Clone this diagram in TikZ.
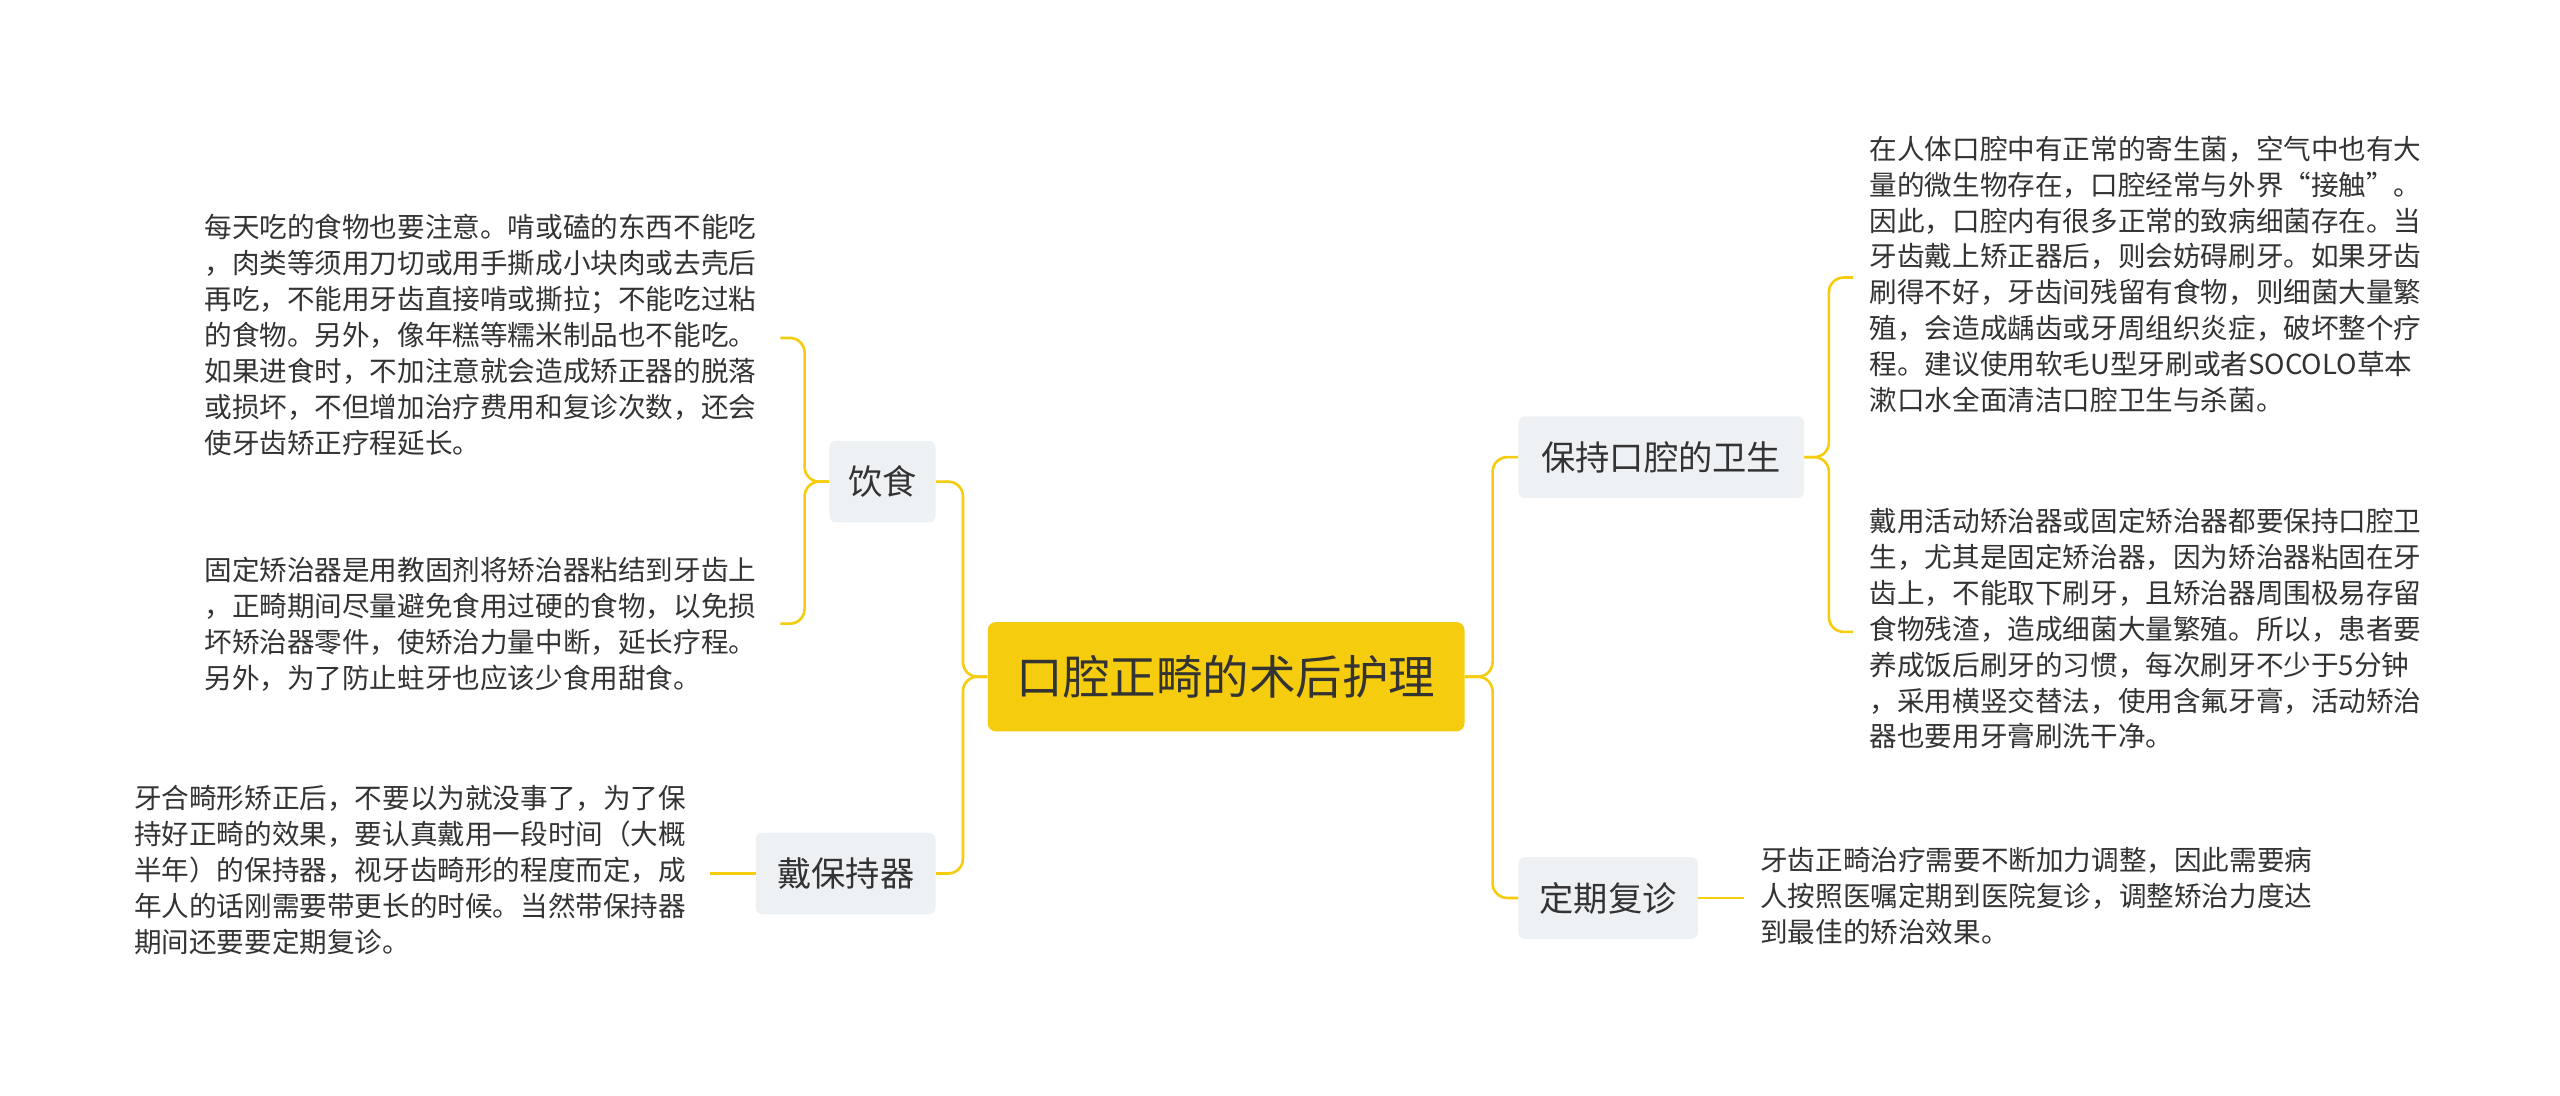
\documentclass[tikz,border=0pt]{standalone}
\usepackage{fontspec}
\setmainfont{Noto Sans CJK SC}
\begin{document}
\begin{tikzpicture}[x=1pt,y=-1pt,
  conn/.style={draw=cyel,line width=1.6pt,rounded corners=9pt},
  sub/.style={fill=cgray,rounded corners=4pt,inner sep=0pt,font=\fontsize{21}{24}\selectfont,text=ctxt},
  body/.style={anchor=north west,inner sep=0pt,align=left,font=\fontsize{16.9}{22}\selectfont,text=ctxt}]
\definecolor{cyel}{HTML}{F5CC0E}
\definecolor{cgray}{HTML}{EEF1F4}
\definecolor{ctxt}{HTML}{333333}
\useasboundingbox[fill=white] (0,0) rectangle (1568,671);
\node[fill=cyel,rounded corners=5pt,minimum width=292pt,minimum height=67pt,inner sep=0pt,font=\fontsize{28.5}{30}\selectfont,text=ctxt] (c) at (751,414.5) {口腔正畸的术后护理};
\node[sub,minimum width=65pt,minimum height=50pt] (yin) at (540.5,295) {饮食};
\node[sub,minimum width=110pt,minimum height=50pt] (dai) at (518,535) {戴保持器};
\node[sub,minimum width=175pt,minimum height=50pt] (bao) at (1017.5,280) {保持口腔的卫生};
\node[sub,minimum width=110pt,minimum height=50pt] (ding) at (985,550) {定期复诊};
\node[body] (t1) at (125,131) {每天吃的食物也要注意。啃或磕的东西不能吃\\，肉类等须用刀切或用手撕成小块肉或去壳后\\再吃，不能用牙齿直接啃或撕拉；不能吃过粘\\的食物。另外，像年糕等糯米制品也不能吃。\\如果进食时，不加注意就会造成矫正器的脱落\\或损坏，不但增加治疗费用和复诊次数，还会\\使牙齿矫正疗程延长。};
\node[body] (t2) at (125,341) {固定矫治器是用教固剂将矫治器粘结到牙齿上\\，正畸期间尽量避免食用过硬的食物，以免损\\坏矫治器零件，使矫治力量中断，延长疗程。\\另外，为了防止蛀牙也应该少食用甜食。};
\node[body] (t3) at (82,481) {牙合畸形矫正后，不要以为就没事了，为了保\\持好正畸的效果，要认真戴用一段时间（大概\\半年）的保持器，视牙齿畸形的程度而定，成\\年人的话刚需要带更长的时候。当然带保持器\\期间还要要定期复诊。};
\node[body] (t4) at (1145,83) {在人体口腔中有正常的寄生菌，空气中也有大\\量的微生物存在，口腔经常与外界“接触”。\\因此，口腔内有很多正常的致病细菌存在。当\\牙齿戴上矫正器后，则会妨碍刷牙。如果牙齿\\刷得不好，牙齿间残留有食物，则细菌大量繁\\殖，会造成龋齿或牙周组织炎症，破坏整个疗\\程。建议使用软毛U型牙刷或者SOCOLO草本\\漱口水全面清洁口腔卫生与杀菌。};
\node[body] (t5) at (1145,311) {戴用活动矫治器或固定矫治器都要保持口腔卫\\生，尤其是固定矫治器，因为矫治器粘固在牙\\齿上，不能取下刷牙，且矫治器周围极易存留\\食物残渣，造成细菌大量繁殖。所以，患者要\\养成饭后刷牙的习惯，每次刷牙不少于5分钟\\，采用横竖交替法，使用含氟牙膏，活动矫治\\器也要用牙膏刷洗干净。};
\node[body] (t6) at (1078,519) {牙齿正畸治疗需要不断加力调整，因此需要病\\人按照医嘱定期到医院复诊，调整矫治力度达\\到最佳的矫治效果。};
\coordinate (a1) at (478,207);
\coordinate (a2) at (478,382);
\coordinate (a3) at (435,535);
\coordinate (b1) at (1135,170);
\coordinate (b2) at (1135,387);
\coordinate (b3) at (1068,550);
\draw[conn] (c.west) -- ++(-15,0) |- (yin.east);
\draw[conn] (c.west) -- ++(-15,0) |- (dai.east);
\draw[conn] (c.east) -- ++(17,0) |- (bao.west);
\draw[conn] (c.east) -- ++(17,0) |- (ding.west);
\draw[conn] (yin.west) -- ++(-15,0) |- (a1);
\draw[conn] (yin.west) -- ++(-15,0) |- (a2);
\draw[conn] (dai.west) -- (a3);
\draw[conn] (bao.east) -- ++(15,0) |- (b1);
\draw[conn] (bao.east) -- ++(15,0) |- (b2);
\draw[conn] (ding.east) -- (b3);
\end{tikzpicture}
\end{document}
